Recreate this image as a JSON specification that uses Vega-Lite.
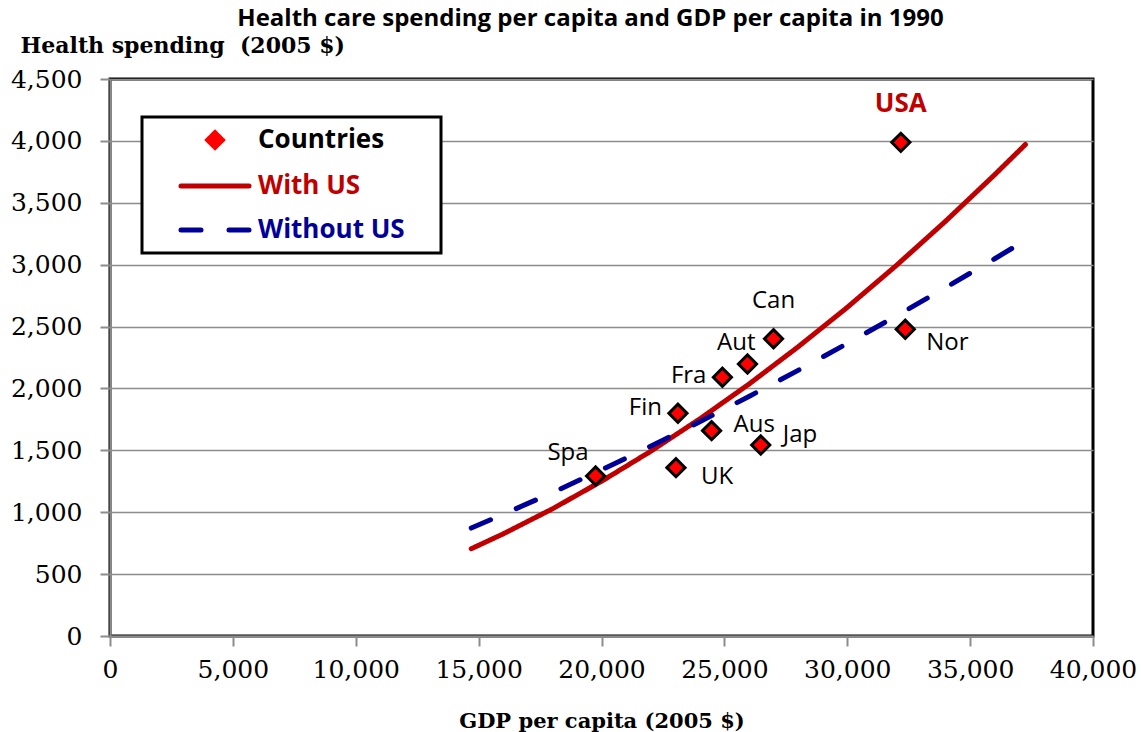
{
  "$schema": "https://vega.github.io/schema/vega-lite/v6.json",
  "width": 983,
  "height": 557,
  "autosize": {"type": "none"},
  "padding": {"left": 110, "top": 79, "right": 48, "bottom": 96},
  "background": "white",
  "title": {
    "text": "Health care spending per capita and GDP per capita in 1990",
    "font": "Open Sans", "fontSize": 24, "fontWeight": "bold", "color": "black",
    "anchor": "middle", "frame": "group", "dx": -11, "baseline": "alphabetic", "offset": -16
  },
  "config": {
    "view": {"stroke": "black", "strokeWidth": 3},
    "axis": {
      "labelFont": "DejaVu Serif", "labelFontSize": 25, "labelColor": "black", "labelOverlap": false, "labelFlush": false,
      "titleFont": "DejaVu Serif", "titleFontSize": 21, "titleFontWeight": "bold", "titleColor": "black",
      "domainColor": "#8c8c8c", "domainWidth": 2,
      "tickColor": "#8c8c8c", "tickWidth": 2, "tickSize": 10
    }
  },
  "datasets": {
    "countries": [
      {"country": "USA", "gdp": 32180, "health": 3988, "series": "Countries"},
      {"country": "Nor", "gdp": 32360, "health": 2478, "series": "Countries"},
      {"country": "Can", "gdp": 27000, "health": 2402, "series": "Countries"},
      {"country": "Aut", "gdp": 25940, "health": 2197, "series": "Countries"},
      {"country": "Fra", "gdp": 24920, "health": 2090, "series": "Countries"},
      {"country": "Fin", "gdp": 23110, "health": 1799, "series": "Countries"},
      {"country": "Aus", "gdp": 24480, "health": 1659, "series": "Countries"},
      {"country": "Jap", "gdp": 26480, "health": 1543, "series": "Countries"},
      {"country": "UK", "gdp": 23030, "health": 1360, "series": "Countries"},
      {"country": "Spa", "gdp": 19760, "health": 1293, "series": "Countries"}
    ],
    "fits": [
      {"series": "With US", "gdp": 14700, "health": 705},
      {"series": "With US", "gdp": 16000, "health": 825},
      {"series": "With US", "gdp": 18000, "health": 1027},
      {"series": "With US", "gdp": 20000, "health": 1250},
      {"series": "With US", "gdp": 22000, "health": 1492},
      {"series": "With US", "gdp": 24000, "health": 1754},
      {"series": "With US", "gdp": 26000, "health": 2035},
      {"series": "With US", "gdp": 28000, "health": 2336},
      {"series": "With US", "gdp": 30000, "health": 2655},
      {"series": "With US", "gdp": 32000, "health": 2994},
      {"series": "With US", "gdp": 34000, "health": 3351},
      {"series": "With US", "gdp": 36000, "health": 3727},
      {"series": "With US", "gdp": 37250, "health": 3971},
      {"series": "Without US", "gdp": 14700, "health": 872},
      {"series": "Without US", "gdp": 16000, "health": 983},
      {"series": "Without US", "gdp": 18000, "health": 1158},
      {"series": "Without US", "gdp": 20000, "health": 1342},
      {"series": "Without US", "gdp": 22000, "health": 1533},
      {"series": "Without US", "gdp": 24000, "health": 1731},
      {"series": "Without US", "gdp": 26000, "health": 1935},
      {"series": "Without US", "gdp": 28000, "health": 2146},
      {"series": "Without US", "gdp": 30000, "health": 2363},
      {"series": "Without US", "gdp": 32000, "health": 2586},
      {"series": "Without US", "gdp": 34000, "health": 2814},
      {"series": "Without US", "gdp": 36000, "health": 3048},
      {"series": "Without US", "gdp": 37200, "health": 3191}
    ]
  },
  "encoding": {
    "x": {
      "field": "gdp", "type": "quantitative",
      "scale": {"domain": [0, 40000], "nice": false, "zero": false},
      "axis": {
        "title": "GDP per capita (2005 $)",
        "values": [0, 5000, 10000, 15000, 20000, 25000, 30000, 35000, 40000],
        "format": ",.0f", "grid": false, "labelPadding": 11,
        "titleY": 91, "titleBaseline": "alphabetic"
      }
    },
    "y": {
      "field": "health", "type": "quantitative",
      "scale": {"domain": [0, 4500], "nice": false, "zero": false},
      "axis": {
        "title": "Health spending\u00a0 (2005 $)",
        "values": [0, 500, 1000, 1500, 2000, 2500, 3000, 3500, 4000, 4500],
        "format": ",.0f", "grid": true, "gridColor": "#8c8c8c", "gridWidth": 1.5,
        "labelPadding": 18,
        "titleFontSize": 22,
        "titleAngle": 0, "titleAlign": "left", "titleAnchor": null,
        "titleX": -90, "titleY": -27, "titleBaseline": "alphabetic"
      }
    }
  },
  "layer": [
    {
      "data": {"name": "fits"},
      "mark": {"type": "line", "strokeWidth": 5, "strokeCap": "round"},
      "encoding": {
        "color": {
          "field": "series", "type": "nominal",
          "scale": {"domain": ["Countries", "With US", "Without US"], "range": ["#ff0000", "#c00000", "#000099"]},
          "legend": {
            "orient": "none", "legendX": 32, "legendY": 38,
            "title": "\u00a0", "titleOrient": "right", "titlePadding": 26, "titleFontSize": 10,
            "padding": 10,
            "strokeColor": "black", "fillColor": "white",
            "labelFont": "Open Sans", "labelFontSize": 26, "labelFontWeight": "bold",
            "labelLimit": 400,
            "symbolSize": 400, "symbolOffset": 50, "labelOffset": 30, "rowPadding": 18,
            "symbolStrokeColor": "black", "symbolStrokeWidth": 3,
            "encode": {
              "legend": {"update": {"strokeWidth": {"value": 3}}},
              "symbols": {"update": {
                "shape": {"signal": "datum.value === 'Countries' ? 'diamond' : 'M-3.4,0L3.4,0'"},
                "size": {"signal": "datum.value === 'Countries' ? 300 : 400"},
                "fill": {"signal": "datum.value === 'Countries' ? '#ff0000' : 'transparent'"},
                "stroke": {"signal": "datum.value === 'Countries' ? '#000000' : datum.value === 'With US' ? '#c00000' : '#000099'"},
                "strokeWidth": {"signal": "datum.value === 'Countries' ? 3 : 5"},
                "strokeDash": {"signal": "datum.value === 'Without US' ? [20, 28] : [1, 0]"},
                "strokeCap": {"value": "round"},
                "opacity": {"value": 1},
                "fillOpacity": {"value": 1},
                "strokeOpacity": {"value": 1}
              }},
              "labels": {"update": {
                "fill": {"signal": "datum.value === 'Countries' ? 'black' : datum.value === 'With US' ? '#c00000' : '#000099'"}
              }}
            }
          }
        },
        "strokeDash": {
          "field": "series", "type": "nominal",
          "scale": {"domain": ["With US", "Without US"], "range": [[1, 0], [21, 28]]},
          "legend": null
        }
      }
    },
    {
      "data": {"name": "countries"},
      "mark": {"type": "point", "shape": "diamond", "filled": true, "stroke": "black", "strokeWidth": 3, "size": 330, "opacity": 1},
      "encoding": {
        "color": {"field": "series", "type": "nominal"}
      }
    },
    {
      "data": {"name": "countries"},
      "transform": [{"filter": "datum.country === 'USA'"}],
      "mark": {"type": "text", "font": "Open Sans", "fontSize": 26, "fontWeight": "bold", "color": "#c00000", "align": "center", "baseline": "middle", "dy": -38},
      "encoding": {"text": {"field": "country"}}
    },
    {
      "data": {"name": "countries"},
      "transform": [{"filter": "datum.country === 'Can'"}],
      "mark": {"type": "text", "font": "Open Sans", "fontSize": 24, "color": "black", "align": "center", "baseline": "middle", "dy": -38},
      "encoding": {"text": {"field": "country"}}
    },
    {
      "data": {"name": "countries"},
      "transform": [{"filter": "datum.country === 'Aut'"}],
      "mark": {"type": "text", "font": "Open Sans", "fontSize": 24, "color": "black", "align": "right", "baseline": "middle", "dx": 8, "dy": -21},
      "encoding": {"text": {"field": "country"}}
    },
    {
      "data": {"name": "countries"},
      "transform": [{"filter": "datum.country === 'Fra'"}],
      "mark": {"type": "text", "font": "Open Sans", "fontSize": 24, "color": "black", "align": "right", "baseline": "middle", "dx": -16, "dy": -1},
      "encoding": {"text": {"field": "country"}}
    },
    {
      "data": {"name": "countries"},
      "transform": [{"filter": "datum.country === 'Fin'"}],
      "mark": {"type": "text", "font": "Open Sans", "fontSize": 24, "color": "black", "align": "right", "baseline": "middle", "dx": -16, "dy": -5},
      "encoding": {"text": {"field": "country"}}
    },
    {
      "data": {"name": "countries"},
      "transform": [{"filter": "datum.country === 'Spa'"}],
      "mark": {"type": "text", "font": "Open Sans", "fontSize": 24, "color": "black", "align": "right", "baseline": "middle", "dx": -7, "dy": -23},
      "encoding": {"text": {"field": "country"}}
    },
    {
      "data": {"name": "countries"},
      "transform": [{"filter": "datum.country === 'Aus'"}],
      "mark": {"type": "text", "font": "Open Sans", "fontSize": 24, "color": "black", "align": "left", "baseline": "middle", "dx": 22, "dy": -6},
      "encoding": {"text": {"field": "country"}}
    },
    {
      "data": {"name": "countries"},
      "transform": [{"filter": "datum.country === 'Jap'"}],
      "mark": {"type": "text", "font": "Open Sans", "fontSize": 24, "color": "black", "align": "left", "baseline": "middle", "dx": 22, "dy": -10},
      "encoding": {"text": {"field": "country"}}
    },
    {
      "data": {"name": "countries"},
      "transform": [{"filter": "datum.country === 'UK'"}],
      "mark": {"type": "text", "font": "Open Sans", "fontSize": 24, "color": "black", "align": "left", "baseline": "middle", "dx": 25, "dy": 9},
      "encoding": {"text": {"field": "country"}}
    },
    {
      "data": {"name": "countries"},
      "transform": [{"filter": "datum.country === 'Nor'"}],
      "mark": {"type": "text", "font": "Open Sans", "fontSize": 24, "color": "black", "align": "left", "baseline": "middle", "dx": 21, "dy": 14},
      "encoding": {"text": {"field": "country"}}
    }
  ]
}
